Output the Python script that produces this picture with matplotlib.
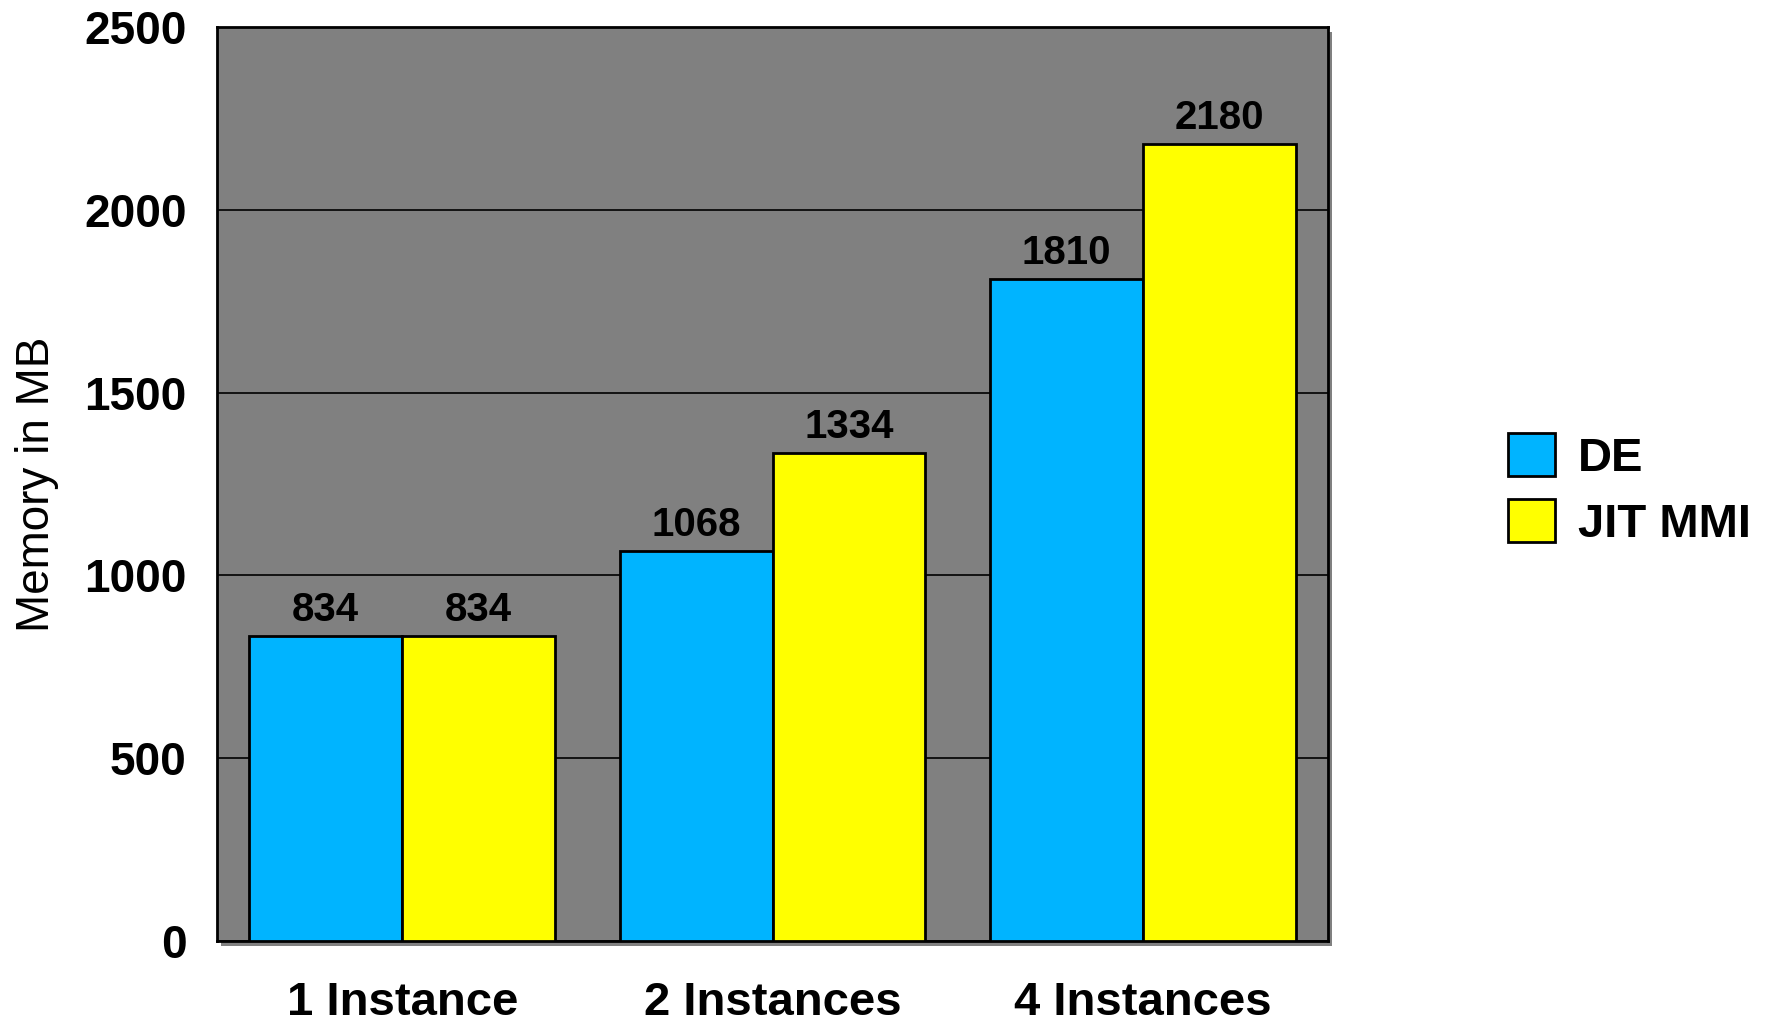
import matplotlib.pyplot as plt
import matplotlib.patches as mpatches
import numpy as np

plt.rcParams['font.family'] = ['Liberation Sans', 'DejaVu Sans']

categories = ["1 Instance", "2 Instances", "4 Instances"]
series_names = ["DE", "JIT MMI"]
de_mb = [834, 1068, 1810]
jit_mmi_mb = [834, 1334, 2180]
y_ticks = [0, 500, 1000, 1500, 2000, 2500]

blue = "#00B4FF"
yellow = "#FFFF00"

fig = plt.figure(figsize=(17.72, 10.23), dpi=100)
ax = fig.add_axes([0.1225, 0.0802, 0.6269, 0.8934])

# drop shadow behind the plot area
pos = ax.get_position()
fig.patches.append(mpatches.Rectangle((pos.x0 + 4 / 1772, pos.y0 - 5 / 1023), pos.width, pos.height,
                                      transform=fig.transFigure, facecolor="#808080",
                                      edgecolor="none", zorder=-1))

ax.set_facecolor("#808080")
x = np.arange(len(categories))
w = 0.413
b1 = ax.bar(x - w / 2, de_mb, w, color=blue, edgecolor="black", linewidth=2, zorder=3)
b2 = ax.bar(x + w / 2, jit_mmi_mb, w, color=yellow, edgecolor="black", linewidth=2, zorder=3)

for bars, vals in ((b1, de_mb), (b2, jit_mmi_mb)):
    for r, v in zip(bars, vals):
        ax.annotate(f"{v}", (r.get_x() + r.get_width() / 2, v), xytext=(0, 5),
                    textcoords="offset points", ha="center", va="bottom",
                    fontsize=29, fontweight="bold")

ax.set_xlim(-0.5, 2.5)
ax.set_ylim(0, 2500)
ax.set_yticks(y_ticks)
ax.set_yticklabels([str(t) for t in y_ticks], fontsize=33, fontweight="bold")
ax.set_xticks(x)
ax.set_xticklabels(categories, fontsize=34, fontweight="bold")
ax.tick_params(axis="y", length=0, pad=22)
ax.tick_params(axis="x", length=0, pad=29)
ax.yaxis.grid(True, color="black", linewidth=1.2, zorder=1)
ax.set_axisbelow(True)
for s in ax.spines.values():
    s.set_linewidth(2)
    s.set_color("black")

fig.text(37 / 1772, 0.527, "Memory in MB", rotation=90, ha="center", va="center", fontsize=33)

handles = [mpatches.Patch(facecolor=blue, edgecolor="black", linewidth=2),
           mpatches.Patch(facecolor=yellow, edgecolor="black", linewidth=2)]
leg = fig.legend(handles, series_names, loc="center left", bbox_to_anchor=(1465 / 1772, 1 - 490 / 1023),
                 frameon=False, prop={"size": 34, "weight": "bold"},
                 handlelength=1.0, handleheight=1.0, handletextpad=0.5, labelspacing=0.4)

fig.savefig("out.png", dpi=100)
